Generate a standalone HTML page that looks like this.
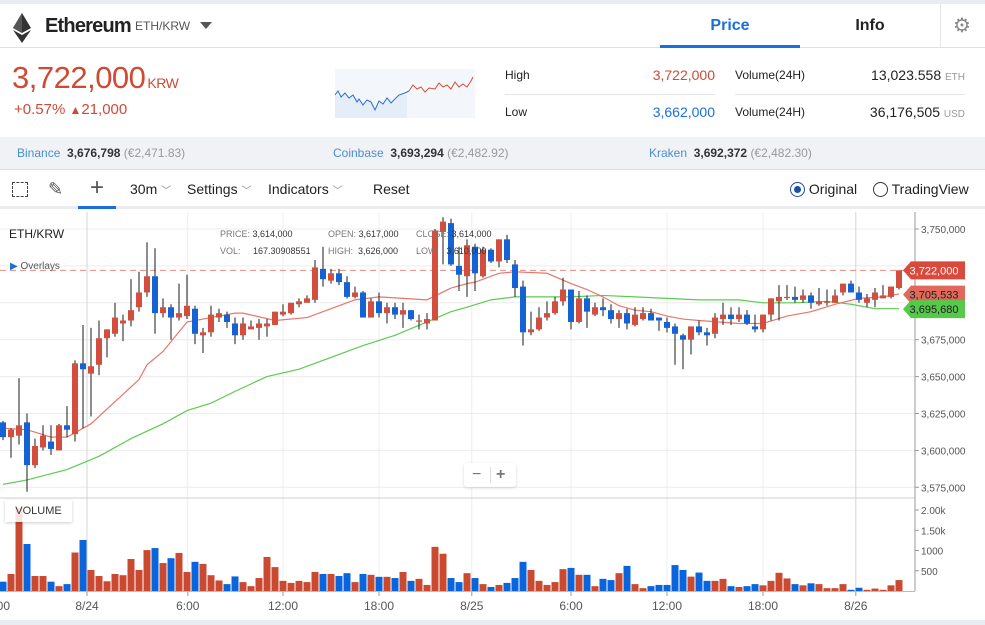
<!DOCTYPE html>
<html><head><meta charset="utf-8">
<style>
*{box-sizing:border-box;margin:0;padding:0}
body{width:985px;height:625px;overflow:hidden;background:#e9ecf1;font-family:"Liberation Sans",sans-serif;position:relative;color:#222}
.abs{position:absolute;white-space:nowrap}
.t13{font-size:13px}
</style></head>
<body>
<div class="abs" style="left:0;top:4px;width:985px;height:616px;background:#fff"></div>

<!-- header -->
<div class="abs" style="left:0;top:4px;width:985px;height:44px;border-bottom:1px solid #dde1e7">
  <svg class="abs" style="left:12px;top:9px" width="20" height="30" viewBox="0 0 20 30"><polygon points="10,0 19,15 10,20 1,15" fill="#333"/><polygon points="10,22 19,17 10,30 1,17" fill="#333"/><polygon points="10,0 10,20 1,15" fill="#555"/></svg>
  <div class="abs" style="left:45px;top:11px;font-size:20px;font-weight:bold;color:#222;letter-spacing:-0.8px">Ethereum</div>
  <div class="abs" style="left:135px;top:15px;font-size:12px;color:#555">ETH/KRW</div>
  <div class="abs" style="left:200px;top:18px;width:0;height:0;border-left:6px solid transparent;border-right:6px solid transparent;border-top:7px solid #555"></div>
  <div class="abs" style="left:660px;top:0;width:140px;height:44px;text-align:center;line-height:44px;font-size:16px;font-weight:bold;color:#1a6fdc;border-bottom:3px solid #1a6fdc">Price</div>
  <div class="abs" style="left:800px;top:0;width:140px;height:44px;text-align:center;line-height:44px;font-size:16px;font-weight:bold;color:#222">Info</div>
  <div class="abs" style="left:940px;top:0;width:1px;height:44px;background:#e3e6ea"></div>
  <div class="abs" style="left:953px;top:9px;font-size:20px;color:#888">⚙</div>
</div>

<!-- price summary -->
<div class="abs" style="left:12px;top:60px;font-size:31px;color:#cf4a35;letter-spacing:-0.5px">3,722,000<span style="font-size:14px;margin-left:2px">KRW</span></div>
<div class="abs" style="left:14px;top:101px;font-size:15px;color:#cf4a35">+0.57% <span style="font-size:12px">▲</span>21,000</div>
<svg class="abs" style="left:335px;top:69px" width="140" height="49" viewBox="0 0 140 49">
  <rect width="140" height="49" fill="#f3f6fa"/>
  <polygon points="0,26 6,28 10,24 14,29 18,26 24,31 30,34 36,30 40,39 44,32 48,35 54,28 60,33 64,26 72,26 72,49 0,49" fill="#dde9f7" opacity="0.7"/>
  <polyline points="0,26 3,22 6,28 10,24 14,29 18,26 22,33 24,30 28,36 32,31 36,33 40,41 44,32 48,35 52,29 56,34 60,30 64,26 70,24 74,22" fill="none" stroke="#2a6ed3" stroke-width="1"/>
  <polyline points="74,22 78,16 82,20 86,18 90,23 94,19 100,20 104,14 108,18 112,16 116,20 120,13 124,18 128,15 132,18 136,12 138,8" fill="none" stroke="#d0503c" stroke-width="1"/>
</svg>
<div class="abs t13" style="left:505px;top:68px;font-size:12px">High</div>
<div class="abs" style="left:615px;top:67px;width:100px;text-align:right;font-size:14px;color:#cf4a35">3,722,000</div>
<div class="abs" style="left:735px;top:68px;font-size:12px">Volume(24H)</div>
<div class="abs" style="left:815px;top:67px;width:150px;text-align:right;font-size:14px">13,023.558 <span style="font-size:10px;color:#999">ETH</span></div>
<div class="abs" style="left:505px;top:94px;width:210px;height:1px;background:#e2e5e9"></div>
<div class="abs" style="left:735px;top:94px;width:230px;height:1px;background:#e2e5e9"></div>
<div class="abs" style="left:505px;top:105px;font-size:12px">Low</div>
<div class="abs" style="left:615px;top:104px;width:100px;text-align:right;font-size:14px;color:#1a6fdc">3,662,000</div>
<div class="abs" style="left:735px;top:105px;font-size:12px">Volume(24H)</div>
<div class="abs" style="left:815px;top:104px;width:150px;text-align:right;font-size:14px">36,176,505 <span style="font-size:10px;color:#999">USD</span></div>

<!-- exchanges -->
<div class="abs" style="left:0;top:137px;width:985px;height:33px;background:#f0f2f5;border-bottom:1px solid #dde1e6;font-size:12px;line-height:33px">
  <span class="abs" style="left:17px"><span style="color:#4a8fd0">Binance</span>&nbsp; <b style="color:#333">3,676,798</b> <span style="color:#999">(€2,471.83)</span></span>
  <span class="abs" style="left:333px"><span style="color:#4a8fd0">Coinbase</span>&nbsp; <b style="color:#333">3,693,294</b> <span style="color:#999">(€2,482.92)</span></span>
  <span class="abs" style="left:649px"><span style="color:#4a8fd0">Kraken</span>&nbsp; <b style="color:#333">3,692,372</b> <span style="color:#999">(€2,482.30)</span></span>
</div>

<!-- toolbar -->
<div class="abs" style="left:0;top:171px;width:985px;height:38px;border-bottom:3px solid #e9ecf1;font-size:14px;line-height:36px;color:#222">
  <div class="abs" style="left:12px;top:11px;width:16px;height:15px;border:1.5px dashed #444"></div>
  <div class="abs" style="left:48px;top:0;font-size:18px;color:#555">✎</div>
  <div class="abs" style="left:78px;top:0;width:38px;height:38px;text-align:center;font-size:24px;color:#555;border-bottom:3px solid #1a6fdc;line-height:34px">+</div>
  <div class="abs" style="left:130px">30m <span style="font-size:10px;color:#888">﹀</span></div>
  <div class="abs" style="left:187px">Settings <span style="font-size:10px;color:#888">﹀</span></div>
  <div class="abs" style="left:268px">Indicators <span style="font-size:10px;color:#888">﹀</span></div>
  <div class="abs" style="left:373px">Reset</div>
  <div class="abs" style="left:790px"><span style="display:inline-block;width:15px;height:15px;border:1.5px solid #1d4fa0;border-radius:50%;vertical-align:-3px;position:relative"><span style="position:absolute;left:2.5px;top:2.5px;width:7px;height:7px;border-radius:50%;background:#1d4fa0"></span></span> Original</div>
  <div class="abs" style="left:873px"><span style="display:inline-block;width:15px;height:15px;border:1.5px solid #333;border-radius:50%;vertical-align:-3px"></span> TradingView</div>
</div>

<svg class="abs" id="chart" style="left:0;top:0" width="985" height="625"></svg>

<div class="abs" style="left:9px;top:227px;font-size:12px;color:#222">ETH/KRW</div>
<div class="abs" style="left:220px;top:226px;font-size:9px;color:#333;line-height:17px">
  <div><span style="color:#777">PRICE:</span> 3,614,000<span style="position:absolute;left:108px"><span style="color:#777">OPEN:</span> 3,617,000</span><span style="position:absolute;left:196px"><span style="color:#777">CLOSE:</span> 3,614,000</span></div>
  <div><span style="color:#777">VOL:</span> &nbsp;&nbsp;&nbsp;&nbsp;167.30908551<span style="position:absolute;left:108px;top:17px"><span style="color:#777">HIGH:</span> &nbsp;3,626,000</span><span style="position:absolute;left:196px;top:17px"><span style="color:#777">LOW:</span> &nbsp;&nbsp;3,610,000</span></div>
</div>
<div class="abs" style="left:10px;top:261px;font-size:10px;color:#555"><span style="color:#1a6fdc">▶</span> Overlays</div>
<div class="abs" style="left:5px;top:500px;width:67px;height:22px;background:rgba(255,255,255,0.85);box-shadow:0 1px 3px rgba(0,0,0,0.2);font-size:11px;line-height:22px;text-align:center;color:#333">VOLUME</div>
<div class="abs" style="left:464px;top:463px;width:52px;height:24px;background:#fff;box-shadow:0 1px 3px rgba(0,0,0,0.15);border-radius:3px;font-size:16px;color:#777;line-height:24px">
  <span class="abs" style="left:8px">−</span>
  <span class="abs" style="left:32px;font-weight:bold">+</span>
  <span class="abs" style="left:26px;top:4px;width:1px;height:16px;background:#ddd"></span>
</div>

<script>
const opens  = [3619,3609,3610,3619,3590,3602,3606,3600,3617,3611,3659,3652,3658,3676,3679,3686,3688,3697,3707,3718,3693,3697,3690,3691,3696,3678,3680,3690,3692,3686,
3678,3682,3683,3684,3685,3692,3693,3699,3700,3702,3723,3715,3720,3714,3704,3707,3690,3701,3693,3697,3692,3695,3688,3686,3688,3748,3754,3725,3718,
3738,3718,3736,3728,3743,3726,3711,3680,3682,3690,3693,3701,3709,3687,3703,3692,3697,3695,3689,3693,3685,3689,3693,3690,3687,3684,3678,3675,3684,
3680,3679,3689,3692,3689,3692,3684,3682,3692,3701,3704,3704,3702,3705,3699,3700,3700,3707,3713,3707,3700,3702,3703,3704,3710];
const closes = [3609,3614,3617,3590,3603,3610,3601,3617,3614,3659,3655,3657,3676,3682,3690,3688,3695,3707,3718,3693,3697,3690,3693,3698,3679,3680,3692,3693,3687,3678,
3686,3684,3686,3686,3694,3694,3700,3701,3703,3724,3716,3720,3714,3704,3707,3690,3701,3693,3697,3692,3695,3689,3688,3689,3749,3755,3726,3719,3739,
3720,3736,3728,3743,3729,3710,3680,3682,3690,3693,3701,3709,3687,3703,3694,3697,3695,3689,3693,3686,3692,3693,3688,3688,3683,3679,3675,3684,3680,
3678,3690,3692,3689,3692,3686,3682,3692,3703,3704,3704,3702,3705,3700,3701,3701,3705,3713,3707,3702,3703,3707,3705,3711,3722];
const highs  = [3620,3615,3649,3625,3608,3617,3617,3618,3630,3661,3685,3683,3688,3682,3700,3692,3716,3721,3741,3737,3703,3699,3713,3719,3698,3683,3698,3696,3694,3690,
3690,3688,3689,3689,3694,3699,3700,3703,3705,3729,3738,3723,3723,3718,3711,3708,3703,3707,3700,3700,3700,3695,3692,3693,3750,3758,3757,3738,3743,
3740,3738,3737,3743,3746,3729,3715,3694,3697,3701,3704,3717,3709,3708,3705,3700,3703,3699,3695,3696,3697,3697,3696,3690,3690,3686,3679,3684,3688,
3683,3693,3700,3697,3697,3695,3692,3692,3703,3712,3712,3711,3709,3707,3710,3709,3709,3713,3715,3711,3706,3710,3712,3711,3722];
const lows   = [3607,3595,3604,3572,3588,3600,3597,3600,3609,3606,3615,3623,3651,3663,3677,3674,3684,3694,3704,3679,3690,3675,3688,3689,3672,3666,3677,3687,3683,3672,
3675,3682,3675,3677,3685,3691,3692,3697,3700,3700,3711,3713,3712,3703,3703,3690,3690,3690,3686,3689,3683,3688,3682,3682,3688,3726,3725,3708,3704,
3708,3717,3727,3724,3727,3704,3671,3678,3681,3688,3692,3698,3682,3686,3683,3691,3691,3686,3683,3682,3684,3688,3688,3681,3680,3658,3655,3665,3678,
3671,3676,3685,3685,3687,3685,3680,3680,3688,3688,3702,3700,3700,3696,3698,3698,3700,3705,3707,3700,3697,3697,3703,3703,3709];
const volumes = [230,420,2050,1160,370,370,230,120,170,950,1260,520,370,240,420,390,790,520,1010,1060,690,810,940,470,720,670,390,260,170,360,
220,120,320,840,590,250,200,250,220,470,420,420,370,440,220,420,400,350,350,320,470,250,300,150,1090,920,320,220,440,
320,170,100,150,200,320,720,520,250,150,220,540,570,400,400,120,300,270,440,620,170,70,120,150,150,640,520,355,455,
250,250,300,120,100,120,170,140,250,450,310,170,140,190,170,70,70,170,30,80,30,60,30,140,270];
const maFastIdx = [0,3,6,8,11,14,17,18,20,23,26,29,30,34,38,41,44,47,50,53,56,58,59,62,64,68,71,73,75,77,79,81,83,85,87,92,95,98,101,104,107,110,112];
const maFastVal = [3615,3614,3609,3609,3618,3633,3648,3658,3667,3687,3690,3693,3693,3688,3690,3696,3702,3704,3703,3702,3710,3713,3714,3720,3721,3720,3713,3709,3704,3698,3695,3694,3691,3689,3688,3686,3686,3691,3694,3699,3703,3704,3706];
const maSlowIdx = [0,3,8,12,16,20,23,26,29,33,37,41,45,49,53,56,58,61,64,68,71,75,79,83,87,92,95,99,103,106,109,112];
const maSlowVal = [3577,3580,3587,3596,3608,3618,3627,3632,3640,3650,3655,3663,3671,3678,3687,3694,3697,3702,3704,3704,3704,3705,3704,3703,3702,3702,3700,3700,3701,3699,3696,3696];
const priceTicks = [3750,3725,3700,3675,3650,3625,3600,3575];
const volTicks = [2000,1500,1000,500];
const volTickLabels = ["2.00k","1.50k","1000","500"];
const timeTickIdx = [-1.0,10.5,23.1,35,47,58.6,71,83,95,106.6];
const timeTickLabels = ["18:00","8/24","6:00","12:00","18:00","8/25","6:00","12:00","18:00","8/26"];
const lastPrice = 3722, fastLast = 3705.533, slowLast = 3695.680;

const NS="http://www.w3.org/2000/svg";
const svg=document.getElementById('chart');
const X0=3, STEP=8, PLOT_R=915, TOP=212, SPLIT=498, BASE=591;
const xAt=i=>X0+STEP*i;
const yP=p=>229+(3750-p)*1.476;
const yV=v=>BASE-v*0.0405;
function mk(tag,attrs){const e=document.createElementNS(NS,tag);for(const k in attrs)e.setAttribute(k,attrs[k]);svg.appendChild(e);return e;}
const fmt=n=>n.toLocaleString('en-US');

let bg=mk('rect',{x:0,y:TOP,width:985,height:BASE-TOP,fill:'#fff'});


priceTicks.forEach(p=>{const y=yP(p);
 let g=mk('line',{x1:0,x2:PLOT_R,y1:y,y2:y,stroke:'#ececec','stroke-width':1});
 
 
 let tk=mk('line',{x1:PLOT_R,x2:PLOT_R+4,y1:y,y2:y,stroke:'#999'});
 
 
 let t=mk('text',{x:PLOT_R+6,y:y+4,'font-size':10,fill:'#555','font-family':'Liberation Sans'});
 t.textContent=fmt(p*1000);
 
 
});
timeTickIdx.forEach((ti,k)=>{const x=xAt(ti);
 let g=mk('line',{x1:x,x2:x,y1:TOP,y2:BASE,stroke:(k==1||k==9)?'#d4d4d4':'#ececec'});
 
 
 let tk=mk('line',{x1:x,x2:x,y1:BASE,y2:BASE+5,stroke:'#999'});
 
 
 let t=mk('text',{x:x,y:610,'font-size':12,fill:'#555','text-anchor':'middle','font-family':'Liberation Sans'});
 t.textContent=timeTickLabels[k];
 
 
});
volTicks.forEach((v,k)=>{const y=yV(v);
 let tk=mk('line',{x1:PLOT_R,x2:PLOT_R+4,y1:y,y2:y,stroke:'#999'});
 
 
 let t=mk('text',{x:PLOT_R+6,y:y+4,'font-size':10,fill:'#555','font-family':'Liberation Sans'});
 t.textContent=volTickLabels[k];
 
 
});
let sp=mk('line',{x1:0,x2:PLOT_R,y1:SPLIT,y2:SPLIT,stroke:'#cfcfcf'});


let ax=mk('line',{x1:PLOT_R,x2:PLOT_R,y1:TOP,y2:BASE,stroke:'#999'});


let bx=mk('line',{x1:0,x2:PLOT_R,y1:BASE+0.5,y2:BASE+0.5,stroke:'#bbb'});



volumes.forEach((v,i)=>{const up=closes[i]>=opens[i];
 let r=mk('rect',{x:xAt(i)-3.5,y:yV(v),width:7,height:BASE-yV(v),fill:up?'#c94a30':'#0a64dc'});
 
 
});
let dl=mk('line',{x1:0,x2:905,y1:yP(lastPrice),y2:yP(lastPrice),stroke:'#e88a80','stroke-dasharray':'6,4'});


let slow=mk('polyline',{points:maSlowIdx.map((ii,k)=>xAt(ii)+','+yP(maSlowVal[k])).join(' '),fill:'none',stroke:'#5ccc50','stroke-width':1.2});


let fast=mk('polyline',{points:maFastIdx.map((ii,k)=>xAt(ii)+','+yP(maFastVal[k])).join(' '),fill:'none',stroke:'#e8766a','stroke-width':1.2});


opens.forEach((o,i)=>{const c=closes[i],up=c>=o,x=xAt(i);
 let w=mk('line',{x1:x,x2:x,y1:yP(highs[i]),y2:yP(lows[i]),stroke:'#1b1b1b','stroke-width':1});
 
 
 const yt=yP(Math.max(o,c)),yb=yP(Math.min(o,c));
 let b=mk('rect',{x:x-3,y:yt,width:6,height:Math.max(1.2,yb-yt),fill:up?'#d24f40':'#1462d4'});
 
 
});
function tag(p,fill,txtColor,name){const y=yP(p);
 let g=mk('polygon',{points:`${PLOT_R-12},${y} ${PLOT_R-4},${y-9} ${PLOT_R+50},${y-9} ${PLOT_R+50},${y+9} ${PLOT_R-4},${y+9}`,fill:fill});
 
 
 let t=mk('text',{x:PLOT_R+19,y:y+4,'font-size':11,fill:txtColor,'text-anchor':'middle','font-family':'Liberation Sans'});
 t.textContent=fmt(Math.round(p*1000));
 
 
}
tag(lastPrice,'#d9493c','#fff','last-price');
tag(fastLast,'#e0685c','#222','fast-ma');
tag(slowLast,'#56c84a','#222','slow-ma');
</script>
</body></html>
